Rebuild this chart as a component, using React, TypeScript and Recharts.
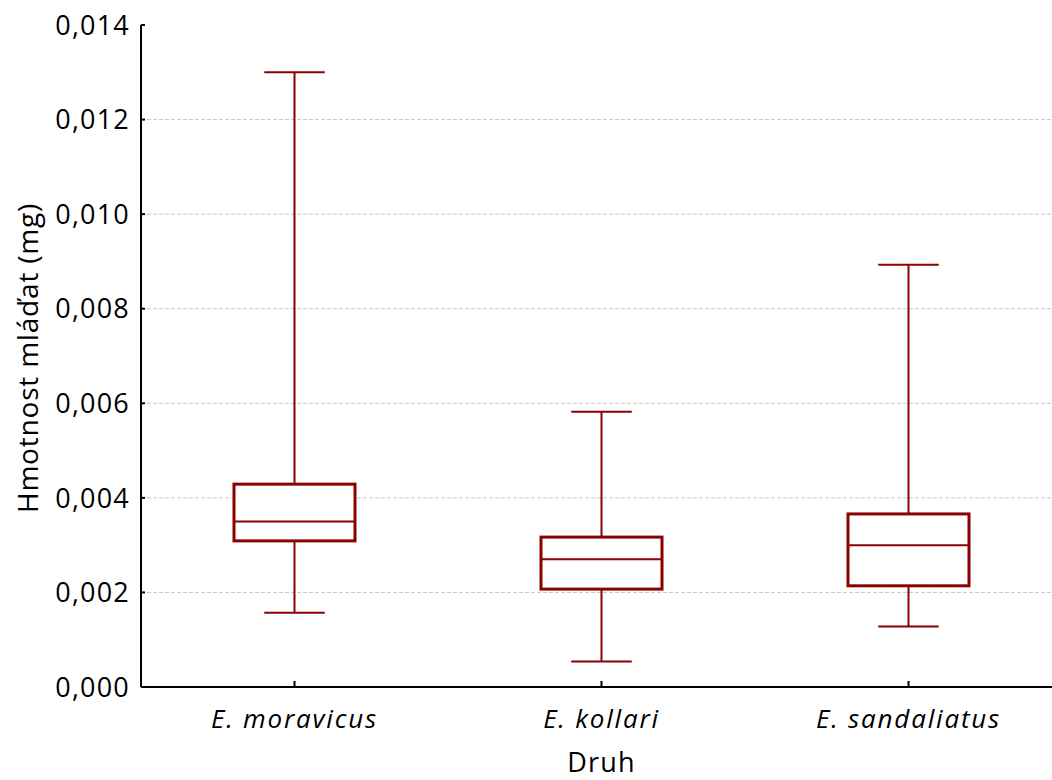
import React from 'react';
import { ComposedChart, Bar, XAxis, YAxis, CartesianGrid } from 'recharts';

const species = ['E. moravicus', 'E. kollari', 'E. sandaliatus'];
const minValues = [0.00157, 0.00054, 0.00128];
const q1Values = [0.00309, 0.00207, 0.00214];
const medianValues = [0.0035, 0.0027, 0.003];
const q3Values = [0.00429, 0.00317, 0.00366];
const maxValues = [0.013, 0.00582, 0.00893];
const yTicks = [0, 0.002, 0.004, 0.006, 0.008, 0.01, 0.012, 0.014];
const yTickLabels = ['0,000', '0,002', '0,004', '0,006', '0,008', '0,010', '0,012', '0,014'];
const xAxisTitle = 'Druh';
const yAxisTitle = 'Hmotnost mláďat (mg)';

const data = species.map((name, i) => ({
  name,
  range: [minValues[i], maxValues[i]],
  min: minValues[i],
  q1: q1Values[i],
  median: medianValues[i],
  q3: q3Values[i],
  max: maxValues[i],
}));

const COLOR = '#8b0000';
const FONT = '"Open Sans", sans-serif';

const BoxShape = (props: any) => {
  const { x, y, width, height, payload } = props;
  if (payload == null) return null;
  const top = Math.min(y, y + height);
  const h = Math.abs(height);
  const span = payload.max - payload.min;
  const toPx = (v: number) => top + ((payload.max - v) / span) * h;
  const cx = x + width / 2;
  const capHalf = width / 4;
  const yMax = toPx(payload.max);
  const yMin = toPx(payload.min);
  const yQ1 = toPx(payload.q1);
  const yQ3 = toPx(payload.q3);
  const yMed = toPx(payload.median);
  return (
    <g>
      <line x1={cx} x2={cx} y1={yMax} y2={yQ3} stroke={COLOR} strokeWidth={2} />
      <line x1={cx} x2={cx} y1={yQ1} y2={yMin} stroke={COLOR} strokeWidth={2} />
      <line x1={cx - capHalf} x2={cx + capHalf} y1={yMax} y2={yMax} stroke={COLOR} strokeWidth={2} />
      <line x1={cx - capHalf} x2={cx + capHalf} y1={yMin} y2={yMin} stroke={COLOR} strokeWidth={2} />
      <rect x={x} y={yQ3} width={width} height={yQ1 - yQ3} fill="#fff" stroke={COLOR} strokeWidth={3} />
      <line x1={x} x2={x + width} y1={yMed} y2={yMed} stroke={COLOR} strokeWidth={2} />
    </g>
  );
};

const YTick = (props: any) => {
  const { x, y, payload } = props;
  const idx = yTicks.indexOf(payload.value);
  return (
    <g>
      <line x1={x} x2={x + 4} y1={y} y2={y} stroke="#000" strokeWidth={2} />
      <text x={x - 11} y={y} dy="0.36em" textAnchor="end" fontFamily={FONT} fontSize={27} letterSpacing={1.2} fill="#000">
        {idx >= 0 ? yTickLabels[idx] : payload.value}
      </text>
    </g>
  );
};

const XTick = (props: any) => {
  const { x, y, payload } = props;
  return (
    <g>
      <line x1={x} x2={x} y1={y} y2={y - 6} stroke="#000" strokeWidth={2} />
      <text x={x} y={y + 41} textAnchor="middle" fontFamily={FONT} fontSize={26} fontStyle="italic" letterSpacing={1.8} fill="#000">
        {payload.value}
      </text>
    </g>
  );
};

const TopTick = (props: any) => {
  const { x, y } = props;
  return <line x1={x} x2={x} y1={y} y2={y + 6} stroke="#000" strokeWidth={2} />;
};

export default function App() {
  return (
    <div style={{ position: 'fixed', left: 0, top: 0, width: 1052, height: 780, overflow: 'hidden', background: '#fff' }}>
      <ComposedChart width={1070} height={780} data={data} margin={{ top: 25, right: 8, bottom: 0, left: 0 }}>
        <CartesianGrid vertical={false} stroke="#c8c8c8" strokeDasharray="4 2" horizontalValues={[0.002, 0.004, 0.006, 0.008, 0.01, 0.012]} />
        <XAxis
          xAxisId="top"
          orientation="top"
          dataKey="name"
          height={0}
          tickSize={0}
          tickMargin={0}
          axisLine={{ stroke: '#000', strokeWidth: 2 }}
          tickLine={false}
          tick={<TopTick />}
        />
        <XAxis
          dataKey="name"
          height={93}
          tickSize={0}
          tickMargin={0}
          axisLine={{ stroke: '#000', strokeWidth: 2 }}
          tickLine={false}
          tick={<XTick />}
          label={{
            content: (p: any) => {
              const vb = p.viewBox;
              return (
                <text x={vb.x + vb.width / 2} y={vb.y + 85} textAnchor="middle" fontFamily={FONT} fontSize={27} letterSpacing={1.2} fill="#000">
                  {xAxisTitle}
                </text>
              );
            },
          }}
        />
        <YAxis
          type="number"
          domain={[0, 0.014]}
          ticks={yTicks}
          width={141}
          tickSize={0}
          tickMargin={0}
          axisLine={{ stroke: '#000', strokeWidth: 2 }}
          tickLine={false}
          tick={<YTick />}
          interval={0}
          label={{
            content: () => (
              <text x={27} y={358} textAnchor="middle" dominantBaseline="central" transform="rotate(-90 27 358)" fontFamily={FONT} fontSize={28} letterSpacing={0.8} fill="#000">
                {yAxisTitle}
              </text>
            ),
          }}
        />
        <Bar dataKey="range" barSize={121} shape={<BoxShape />} isAnimationActive={false} />
      </ComposedChart>
    </div>
  );
}
